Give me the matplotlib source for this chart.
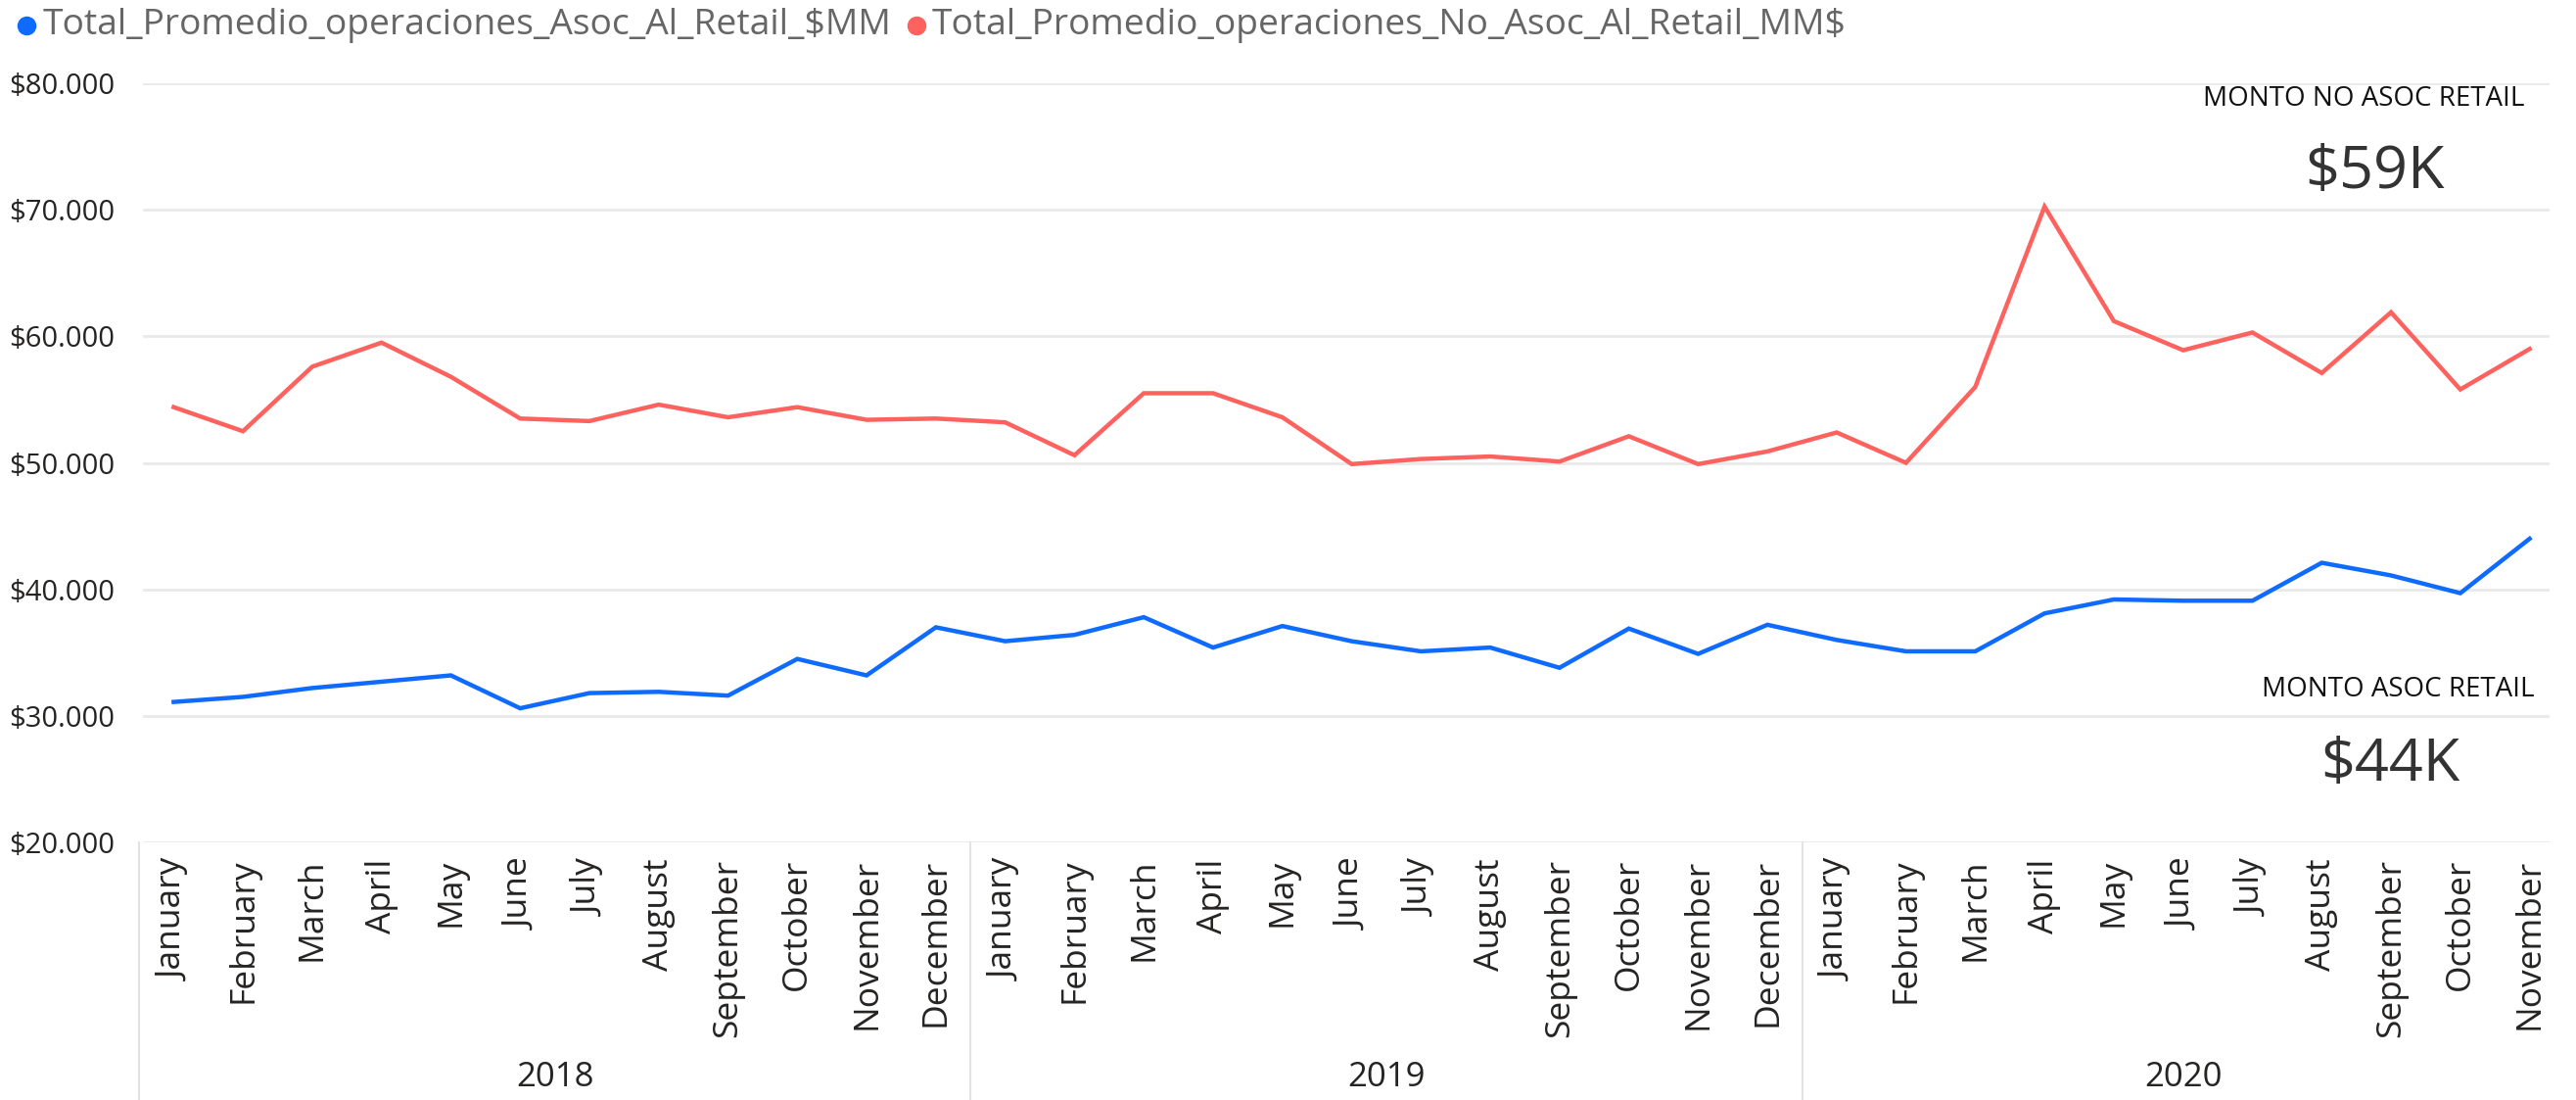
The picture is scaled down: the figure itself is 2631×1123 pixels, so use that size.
import matplotlib
matplotlib.use('Agg')
import matplotlib.pyplot as plt
from matplotlib.lines import Line2D

# data (values in thousands of $)
months = ['January', 'February', 'March', 'April', 'May', 'June', 'July',
          'August', 'September', 'October', 'November', 'December']
years = ['2018', '2019', '2020']
month_labels = months * 2 + months[:11]

asoc_retail = [31.1, 31.5, 32.2, 32.7, 33.2, 30.6, 31.8, 31.9, 31.6, 34.5, 33.2, 37.0,
               35.9, 36.4, 37.8, 35.4, 37.1, 35.9, 35.1, 35.4, 33.8, 36.9, 34.9, 37.2,
               36.0, 35.1, 35.1, 38.1, 39.2, 39.1, 39.1, 42.1, 41.1, 39.7, 44.0]
no_asoc_retail = [54.4, 52.5, 57.6, 59.5, 56.8, 53.5, 53.3, 54.6, 53.6, 54.4, 53.4, 53.5,
                  53.2, 50.6, 55.5, 55.5, 53.6, 49.9, 50.3, 50.5, 50.1, 52.1, 49.9, 50.9,
                  52.4, 50.0, 56.0, 70.25, 61.2, 58.9, 60.3, 57.1, 61.9, 55.8, 59.0]
yticks = [20, 30, 40, 50, 60, 70, 80]
kpi_no_asoc = '$59K'
kpi_asoc = '$44K'

series_names = ['Total_Promedio_operaciones_Asoc_Al_Retail_$MM',
                'Total_Promedio_operaciones_No_Asoc_Al_Retail_MM$']
blue = '#0F6BFF'
red = '#FD625E'

plt.rcParams['font.family'] = ['Open Sans', 'DejaVu Sans']

W, H = 2631, 1123
fig = plt.figure(figsize=(W / 100, H / 100), dpi=100)
ax = fig.add_axes([142 / W, 1 - 860 / H, (2619 - 142) / W, (860 - 85) / H])

x = list(range(len(month_labels)))
ax.plot(x, asoc_retail, color=blue, lw=3.2, solid_joinstyle='miter', zorder=3)
ax.plot(x, no_asoc_retail, color=red, lw=3.2, solid_joinstyle='miter', zorder=3)

ax.set_xlim(-0.5, len(month_labels) - 0.5)
ax.set_ylim(20, 80)
for v in yticks:
    ax.axhline(v, xmin=0.002, xmax=0.993, color='#e9e9e9', lw=2, zorder=1)

ax.set_yticks(yticks)
ax.set_yticklabels(['${:,.0f}.000'.format(v) for v in yticks], fontsize=21, color='#252423')
ax.set_xticks(x)
ax.set_xticklabels(month_labels, rotation=90, fontsize=25.5, color='#252423', va='top')
ax.tick_params(length=0)
ax.tick_params(axis='x', pad=12)
ax.tick_params(axis='y', pad=18)
for s in ax.spines.values():
    s.set_visible(False)

# year separators and labels below the month labels
starts = [0, 12, 24, len(month_labels)]
for i, yr in enumerate(years):
    ax.add_line(Line2D([starts[i] - 0.5] * 2, [0, -0.34], transform=ax.get_xaxis_transform(),
                       color='#e3e3e3', lw=1.5, clip_on=False))
    mid = (starts[i] - 0.5 + starts[i + 1] - 0.5) / 2
    fig.text(ax.transData.transform((mid, 0))[0] / W, 1 - 1100 / H, yr,
             ha='center', va='center', fontsize=25, color='#252423')

# legend at the top
fig.add_artist(Line2D([27 / W], [1 - 26 / H], marker='o', markersize=13, color=blue,
                      transform=fig.transFigure))
fig.text(44 / W, 1 - 26 / H, series_names[0], fontsize=26.8, color='#666666', va='center')
fig.add_artist(Line2D([936 / W], [1 - 26 / H], marker='o', markersize=13, color=red,
                      transform=fig.transFigure))
fig.text(952 / W, 1 - 26 / H, series_names[1], fontsize=26.8, color='#666666', va='center')

# KPI cards on the right
fig.text(2578 / W, 1 - 101 / H, 'MONTO NO ASOC RETAIL', fontsize=20, color='#111111',
         ha='right', va='center')
fig.text(2425 / W, 1 - 176 / H, kpi_no_asoc, fontsize=44, color='#333333',
         ha='center', va='center')
fig.text(2589 / W, 1 - 704 / H, 'MONTO ASOC RETAIL', fontsize=20, color='#111111',
         ha='right', va='center')
fig.text(2441 / W, 1 - 781 / H, kpi_asoc, fontsize=44, color='#333333',
         ha='center', va='center')

fig.savefig('out.png', dpi=100, facecolor='white')
